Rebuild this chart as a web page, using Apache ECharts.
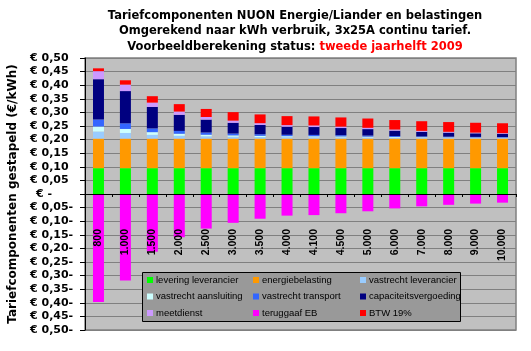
<!DOCTYPE html>
<html><head><meta charset="utf-8">
<script src="https://cdn.jsdelivr.net/npm/echarts@6/dist/echarts.min.js"></script>
<style>html,body{margin:0;padding:0;background:#fff}#c{width:531px;height:351px}</style>
</head><body><div id="c"></div>
<script>
var categories = ['800','1.000','1.500','2.000','2.500','3.000','3.500','4.000','4.100','4.500','5.000','6.000','7.000','8.000','9.000','10.000'];
var leveringLeverancier = [0.095,0.095,0.095,0.095,0.095,0.095,0.095,0.095,0.095,0.095,0.095,0.095,0.095,0.095,0.095,0.095];
var energiebelasting   = [0.1087,0.1087,0.1087,0.1087,0.1087,0.1087,0.1087,0.1087,0.1087,0.1087,0.1087,0.1087,0.1087,0.1087,0.1087,0.1087];
var vastrechtLeverancier = [0.0259,0.0207,0.0138,0.0104,0.0083,0.0069,0.0059,0.0052,0.0050,0.0046,0.0041,0.0035,0.0030,0.0026,0.0023,0.0021];
var vastrechtAansluiting = [0.0185,0.0148,0.0099,0.0074,0.0059,0.0049,0.0042,0.0037,0.0036,0.0033,0.0030,0.0025,0.0021,0.0019,0.0016,0.0015];
var vastrechtTransport  = [0.0259,0.0207,0.0138,0.0104,0.0083,0.0069,0.0059,0.0052,0.0050,0.0046,0.0041,0.0035,0.0030,0.0026,0.0023,0.0021];
var capaciteit = [0.1481,0.1185,0.0790,0.0593,0.0474,0.0395,0.0339,0.0296,0.0289,0.0263,0.0237,0.0198,0.0169,0.0148,0.0132,0.0119];
var meetdienst = [0.0296,0.0237,0.0158,0.0119,0.0095,0.0079,0.0068,0.0059,0.0058,0.0053,0.0047,0.0040,0.0034,0.0030,0.0026,0.0024];
var teruggaafEB = [-0.3975,-0.318,-0.212,-0.159,-0.1272,-0.106,-0.0909,-0.0795,-0.0776,-0.0707,-0.0636,-0.053,-0.0454,-0.0398,-0.0353,-0.0318];
var btw = [0.0103,0.0160,0.0236,0.0273,0.0296,0.0311,0.0322,0.0330,0.0332,0.0337,0.0342,0.0349,0.0355,0.0359,0.0362,0.0364];

var names = ['levering leverancier','energiebelasting','vastrecht leverancier','vastrecht aansluiting','vastrecht transport','capaciteitsvergoeding','meetdienst','teruggaaf EB','BTW 19%'];
var colors = ['#00FF00','#FF9900','#99CCFF','#CCFFFF','#3366FF','#000080','#CC99FF','#FF00FF','#FF0000'];
var datasets = [leveringLeverancier,energiebelasting,vastrechtLeverancier,vastrechtAansluiting,vastrechtTransport,capaciteit,meetdienst,teruggaafEB,btw];

var FONT = 'DejaVu Sans';
var series = names.map(function(n,i){
  return {name:n,type:'bar',stack:'t',barWidth:11,data:datasets[i],
    itemStyle:{color:colors[i]},emphasis:{disabled:true}};
});

function legendCol(left, items){
  return {orient:'vertical',left:left,top:274,padding:0,itemGap:4.5,itemWidth:6,itemHeight:6,
    icon:'rect',z:6,data:items,selectedMode:false,
    textStyle:{fontFamily:'Liberation Sans',fontSize:9.5,color:'#000',lineHeight:12,padding:[0,0,0,-2]}};
}

var chart = echarts.init(document.getElementById('c'),null,{renderer:'canvas'});
chart.setOption({
  animation:false,
  backgroundColor:'#fff',
  title:{
    text:'Tariefcomponenten NUON Energie/Liander en belastingen\nOmgerekend naar kWh verbruik, 3x25A continu tarief.\nVoorbeeldberekening status: {r|tweede jaarhelft 2009}',
    left:295, top:8, padding:0, textAlign:'center',
    textStyle:{fontFamily:FONT,fontSize:11.5,fontWeight:'bold',color:'#000',lineHeight:15.5,
      rich:{r:{fontFamily:FONT,fontSize:11.5,fontWeight:'bold',color:'#FF0000',lineHeight:15.5}}}
  },
  legend:[
    legendCol(147,['levering leverancier','vastrecht aansluiting','meetdienst']),
    legendCol(253,['energiebelasting','vastrecht transport','teruggaaf EB']),
    legendCol(360,['vastrecht leverancier','capaciteitsvergoeding','BTW 19%'])
  ],
  graphic:[{type:'rect',z:5,shape:{x:142.5,y:272.5,width:318,height:49},
    style:{fill:'#999999',stroke:'#000',lineWidth:1}}],
  grid:{left:85,right:15,top:58,bottom:21,containLabel:false,outerBoundsMode:'none',
    show:true,backgroundColor:'#C0C0C0',borderColor:'#808080',borderWidth:1.5},
  xAxis:{type:'category',data:categories,z:8,position:'bottom',offset:-136,
    axisLine:{onZero:false,lineStyle:{color:'#000',width:1}},
    axisTick:{show:true,length:3,lineStyle:{color:'#000'}},
    axisLabel:{rotate:90,margin:35,fontFamily:'Liberation Sans',fontWeight:'bold',fontSize:10.5,color:'#000',interval:0,hideOverlap:false},
    splitLine:{show:false}},
  yAxis:{type:'value',min:-0.5,max:0.5,interval:0.05,
    name:'Tariefcomponenten gestapeld (€/kWh)',nameLocation:'middle',nameGap:64,nameRotate:90,
    nameTextStyle:{fontFamily:FONT,fontSize:12,fontWeight:'bold',color:'#000'},
    axisLine:{show:true,onZero:false,lineStyle:{color:'#000',width:1}},
    axisTick:{show:true,length:5,lineStyle:{color:'#000'}},
    splitLine:{lineStyle:{color:'#808080',width:1}},
    axisLabel:{align:'left',margin:55,fontFamily:FONT,fontWeight:'bold',fontSize:11,color:'#000',hideOverlap:false,
      formatter:function(v){
        if(Math.abs(v)<1e-9) return '{z|€ -}';
        var s=Math.abs(v).toFixed(2).replace('.',',');
        return v>0 ? '€ '+s : '€ '+s+'-';
      },
      rich:{z:{fontFamily:FONT,fontWeight:'bold',fontSize:11,color:'#000',padding:[0,0,0,6]}}}
  },
  series:series
});
</script></body></html>
